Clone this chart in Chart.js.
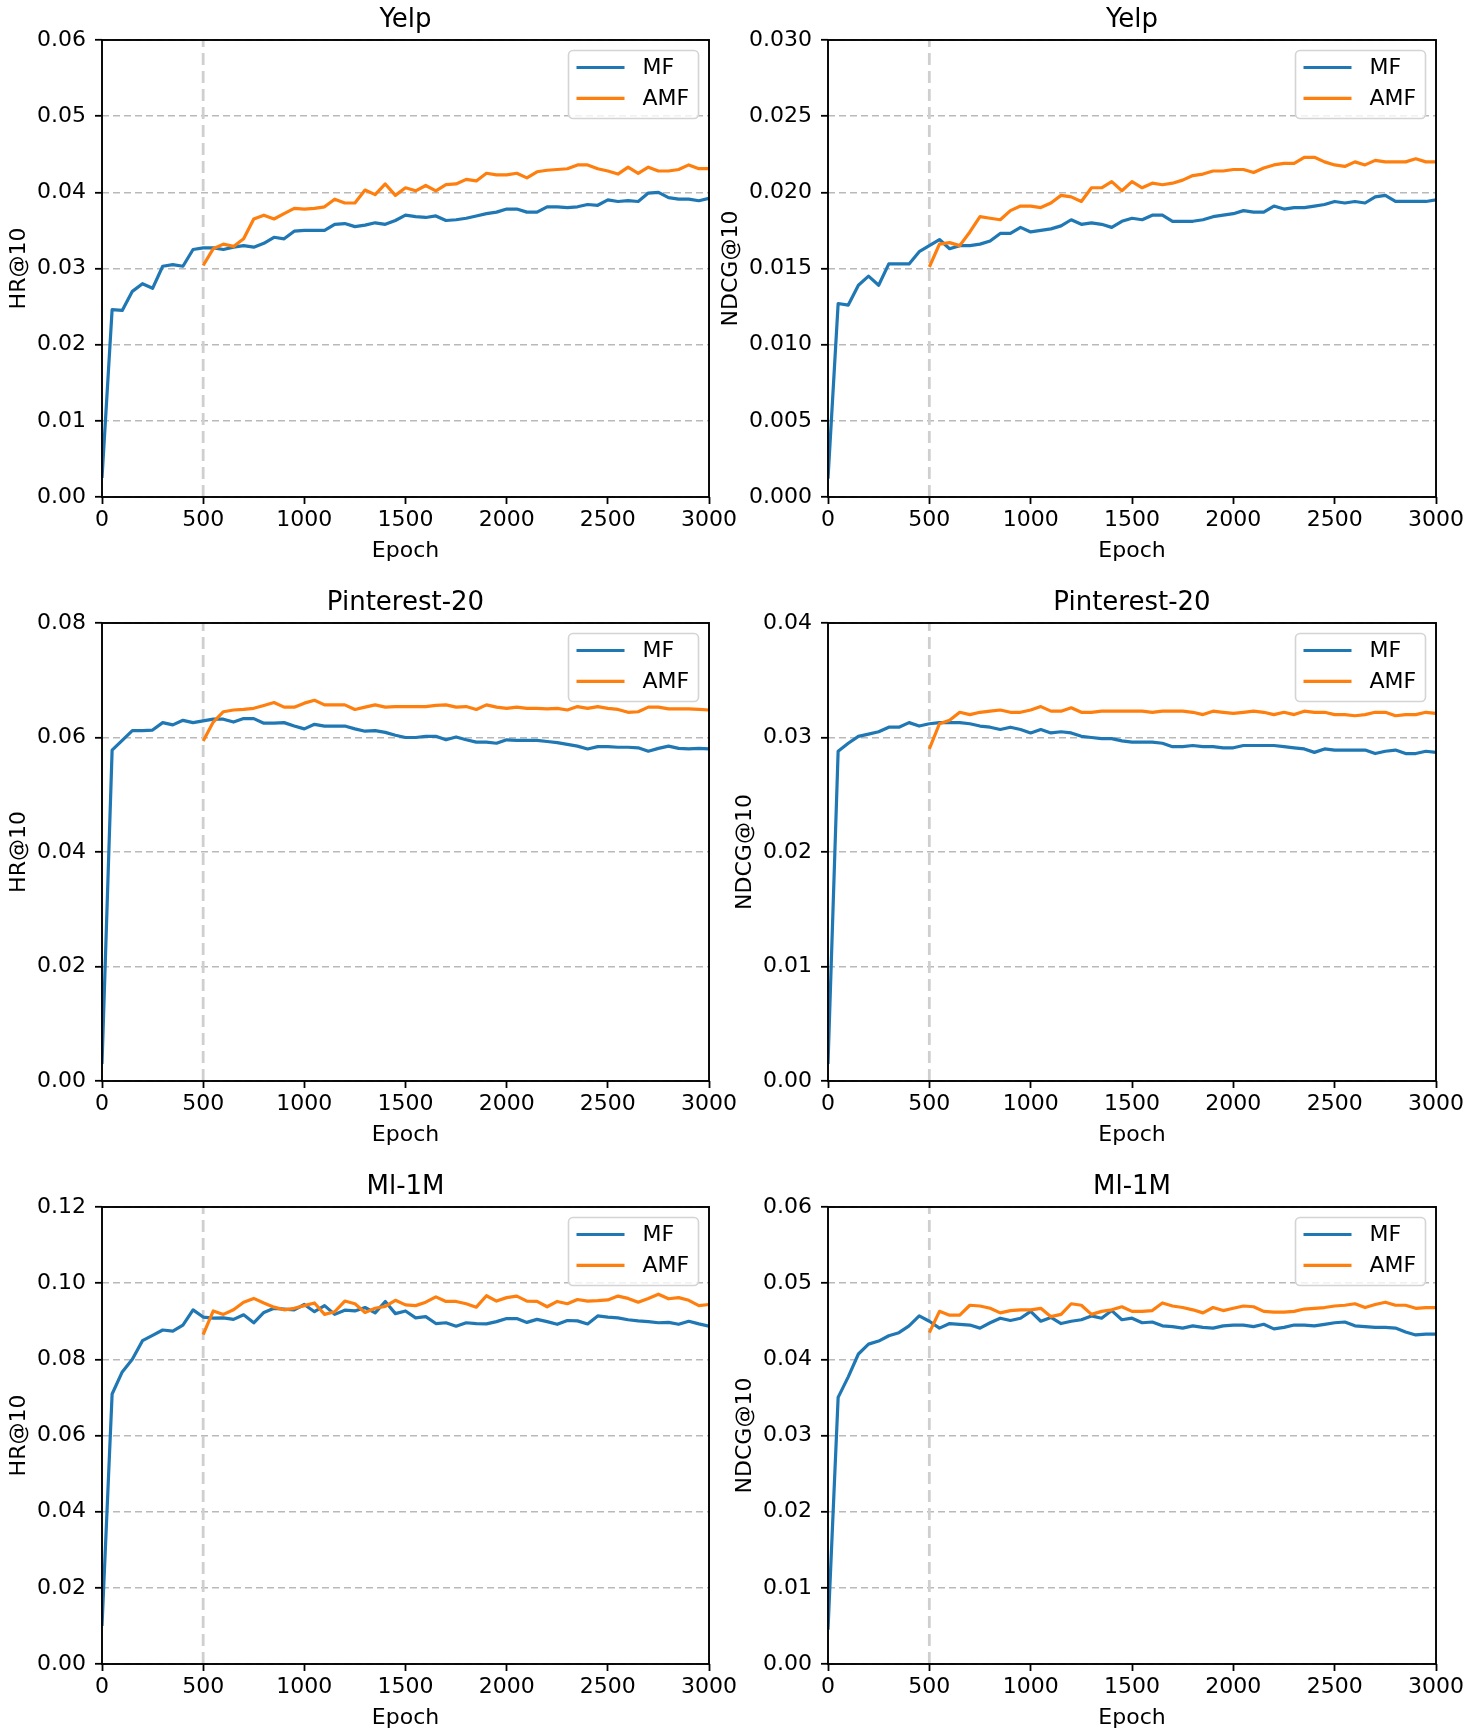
<!DOCTYPE html>
<html>
<head>
<meta charset="utf-8">
<title>MF vs AMF training curves</title>
<script src="https://cdn.jsdelivr.net/npm/chart.js@4.4.1/dist/chart.umd.min.js"></script>
<style>
    html, body { margin: 0; padding: 0; background: #fff; }
    #page { position: relative; width: 1467px; height: 1736px; overflow: hidden; background: #fff; }
    #page canvas { position: absolute; }
</style>
</head>
<body>
<div id="page"></div>
<script>
// x positions shared by every panel (evaluated every 50 epochs)
const epochs = [0, 50, 100, 150, 200, 250, 300, 350, 400, 450,
    500, 550, 600, 650, 700, 750, 800, 850, 900, 950,
    1000, 1050, 1100, 1150, 1200, 1250, 1300, 1350, 1400, 1450,
    1500, 1550, 1600, 1650, 1700, 1750, 1800, 1850, 1900, 1950,
    2000, 2050, 2100, 2150, 2200, 2250, 2300, 2350, 2400, 2450,
    2500, 2550, 2600, 2650, 2700, 2750, 2800, 2850, 2900, 2950, 3000];
const amfStart = 500;
const epochTicks = [0, 500, 1000, 1500, 2000, 2500, 3000];

// Yelp
const yelpHrMF = [0.0025, 0.0246, 0.0245, 0.0270, 0.0280, 0.0274, 0.0303, 0.0305, 0.0303, 0.0325,
    0.0327, 0.0327, 0.0325, 0.0328, 0.0330, 0.0328, 0.0333, 0.0341, 0.0339, 0.0349,
    0.0350, 0.0350, 0.0350, 0.0358, 0.0359, 0.0355, 0.0357, 0.0360, 0.0358, 0.0363,
    0.0370, 0.0368, 0.0367, 0.0369, 0.0363, 0.0364, 0.0366, 0.0369, 0.0372, 0.0374,
    0.0378, 0.0378, 0.0374, 0.0374, 0.0381, 0.0381, 0.0380, 0.0381, 0.0384, 0.0383,
    0.0390, 0.0388, 0.0389, 0.0388, 0.0399, 0.0400, 0.0393, 0.0391, 0.0391, 0.0389, 0.0392];
const yelpHrAMF = [0.0304, 0.0326, 0.0332, 0.0329, 0.0339, 0.0365, 0.0370, 0.0365, 0.0372, 0.0379,
    0.0378, 0.0379, 0.0381, 0.0391, 0.0386, 0.0386, 0.0403, 0.0397, 0.0411, 0.0396,
    0.0406, 0.0402, 0.0409, 0.0402, 0.0410, 0.0411, 0.0417, 0.0415, 0.0425, 0.0423,
    0.0423, 0.0425, 0.0419, 0.0427, 0.0429, 0.0430, 0.0431, 0.0436, 0.0436, 0.0431,
    0.0428, 0.0424, 0.0433, 0.0425, 0.0433, 0.0428, 0.0428, 0.0430, 0.0436, 0.0431, 0.0431];
const yelpNdcgMF = [0.0012, 0.0127, 0.0126, 0.0139, 0.0145, 0.0139, 0.0153, 0.0153, 0.0153, 0.0161,
    0.0165, 0.0169, 0.0163, 0.0165, 0.0165, 0.0166, 0.0168, 0.0173, 0.0173, 0.0177,
    0.0174, 0.0175, 0.0176, 0.0178, 0.0182, 0.0179, 0.0180, 0.0179, 0.0177, 0.0181,
    0.0183, 0.0182, 0.0185, 0.0185, 0.0181, 0.0181, 0.0181, 0.0182, 0.0184, 0.0185,
    0.0186, 0.0188, 0.0187, 0.0187, 0.0191, 0.0189, 0.0190, 0.0190, 0.0191, 0.0192,
    0.0194, 0.0193, 0.0194, 0.0193, 0.0197, 0.0198, 0.0194, 0.0194, 0.0194, 0.0194, 0.0195];
const yelpNdcgAMF = [0.0151, 0.0166, 0.0167, 0.0165, 0.0174, 0.0184, 0.0183, 0.0182, 0.0188, 0.0191,
    0.0191, 0.0190, 0.0193, 0.0198, 0.0197, 0.0194, 0.0203, 0.0203, 0.0207, 0.0201,
    0.0207, 0.0203, 0.0206, 0.0205, 0.0206, 0.0208, 0.0211, 0.0212, 0.0214, 0.0214,
    0.0215, 0.0215, 0.0213, 0.0216, 0.0218, 0.0219, 0.0219, 0.0223, 0.0223, 0.0220,
    0.0218, 0.0217, 0.0220, 0.0218, 0.0221, 0.0220, 0.0220, 0.0220, 0.0222, 0.0220, 0.0220];

// Pinterest-20
const pinHrMF = [0.0030, 0.0578, 0.0595, 0.0612, 0.0612, 0.0613, 0.0626, 0.0622, 0.0630, 0.0626,
    0.0629, 0.0632, 0.0632, 0.0627, 0.0633, 0.0633, 0.0625, 0.0625, 0.0626, 0.0620,
    0.0615, 0.0623, 0.0620, 0.0620, 0.0620, 0.0615, 0.0611, 0.0612, 0.0609, 0.0604,
    0.0600, 0.0600, 0.0602, 0.0602, 0.0596, 0.0601, 0.0596, 0.0592, 0.0592, 0.0590,
    0.0596, 0.0595, 0.0595, 0.0595, 0.0593, 0.0591, 0.0588, 0.0585, 0.0580, 0.0584,
    0.0584, 0.0583, 0.0583, 0.0582, 0.0576, 0.0581, 0.0585, 0.0581, 0.0580, 0.0581, 0.0580];
const pinHrAMF = [0.0594, 0.0627, 0.0645, 0.0648, 0.0649, 0.0651, 0.0656, 0.0661, 0.0653, 0.0653,
    0.0660, 0.0665, 0.0657, 0.0657, 0.0657, 0.0649, 0.0653, 0.0657, 0.0653, 0.0654,
    0.0654, 0.0654, 0.0654, 0.0656, 0.0657, 0.0653, 0.0654, 0.0649, 0.0657, 0.0653,
    0.0651, 0.0653, 0.0651, 0.0651, 0.0650, 0.0651, 0.0648, 0.0654, 0.0651, 0.0654,
    0.0651, 0.0649, 0.0644, 0.0645, 0.0653, 0.0653, 0.0650, 0.0650, 0.0650, 0.0649, 0.0648];
const pinNdcgMF = [0.0015, 0.0288, 0.0295, 0.0301, 0.0303, 0.0305, 0.0309, 0.0309, 0.0313, 0.0310,
    0.0312, 0.0313, 0.0313, 0.0313, 0.0312, 0.0310, 0.0309, 0.0307, 0.0309, 0.0307,
    0.0304, 0.0307, 0.0304, 0.0305, 0.0304, 0.0301, 0.0300, 0.0299, 0.0299, 0.0297,
    0.0296, 0.0296, 0.0296, 0.0295, 0.0292, 0.0292, 0.0293, 0.0292, 0.0292, 0.0291,
    0.0291, 0.0293, 0.0293, 0.0293, 0.0293, 0.0292, 0.0291, 0.0290, 0.0287, 0.0290,
    0.0289, 0.0289, 0.0289, 0.0289, 0.0286, 0.0288, 0.0289, 0.0286, 0.0286, 0.0288, 0.0287];
const pinNdcgAMF = [0.0290, 0.0312, 0.0315, 0.0322, 0.0320, 0.0322, 0.0323, 0.0324, 0.0322, 0.0322,
    0.0324, 0.0327, 0.0323, 0.0323, 0.0326, 0.0322, 0.0322, 0.0323, 0.0323, 0.0323,
    0.0323, 0.0323, 0.0322, 0.0323, 0.0323, 0.0323, 0.0322, 0.0320, 0.0323, 0.0322,
    0.0321, 0.0322, 0.0323, 0.0322, 0.0320, 0.0322, 0.0320, 0.0323, 0.0322, 0.0322,
    0.0320, 0.0320, 0.0319, 0.0320, 0.0322, 0.0322, 0.0319, 0.0320, 0.0320, 0.0322, 0.0321];

// Ml-1M
const mlHrMF = [0.0100, 0.0709, 0.0767, 0.0800, 0.0849, 0.0863, 0.0877, 0.0874, 0.0890, 0.0930,
    0.0911, 0.0908, 0.0909, 0.0905, 0.0917, 0.0896, 0.0923, 0.0934, 0.0932, 0.0930,
    0.0944, 0.0925, 0.0941, 0.0918, 0.0929, 0.0927, 0.0936, 0.0922, 0.0952, 0.0920,
    0.0927, 0.0909, 0.0912, 0.0894, 0.0896, 0.0887, 0.0896, 0.0894, 0.0893, 0.0899,
    0.0907, 0.0907, 0.0897, 0.0905, 0.0899, 0.0892, 0.0902, 0.0901, 0.0893, 0.0914,
    0.0911, 0.0909, 0.0904, 0.0901, 0.0899, 0.0896, 0.0897, 0.0892, 0.0900, 0.0893, 0.0887];
const mlHrAMF = [0.0865, 0.0927, 0.0918, 0.0930, 0.0950, 0.0960, 0.0948, 0.0937, 0.0930, 0.0934,
    0.0941, 0.0948, 0.0918, 0.0925, 0.0953, 0.0946, 0.0923, 0.0934, 0.0939, 0.0955,
    0.0943, 0.0941, 0.0950, 0.0964, 0.0952, 0.0952, 0.0946, 0.0937, 0.0967, 0.0953,
    0.0962, 0.0966, 0.0953, 0.0952, 0.0938, 0.0952, 0.0946, 0.0957, 0.0953, 0.0954,
    0.0956, 0.0966, 0.0960, 0.0950, 0.0960, 0.0971, 0.0959, 0.0962, 0.0955, 0.0941, 0.0944];
const mlNdcgMF = [0.0045, 0.0350, 0.0377, 0.0407, 0.0420, 0.0424, 0.0431, 0.0435, 0.0444, 0.0457,
    0.0450, 0.0441, 0.0447, 0.0446, 0.0445, 0.0441, 0.0448, 0.0454, 0.0451, 0.0454,
    0.0463, 0.0450, 0.0455, 0.0447, 0.0450, 0.0452, 0.0457, 0.0454, 0.0464, 0.0452,
    0.0454, 0.0448, 0.0449, 0.0444, 0.0443, 0.0441, 0.0444, 0.0442, 0.0441, 0.0444,
    0.0445, 0.0445, 0.0443, 0.0446, 0.0440, 0.0442, 0.0445, 0.0445, 0.0444, 0.0446,
    0.0448, 0.0449, 0.0444, 0.0443, 0.0442, 0.0442, 0.0441, 0.0436, 0.0432, 0.0433, 0.0433];
const mlNdcgAMF = [0.0435, 0.0463, 0.0458, 0.0458, 0.0471, 0.0470, 0.0467, 0.0461, 0.0464, 0.0465,
    0.0465, 0.0467, 0.0456, 0.0459, 0.0473, 0.0471, 0.0459, 0.0463, 0.0465, 0.0469,
    0.0463, 0.0463, 0.0464, 0.0474, 0.0470, 0.0468, 0.0465, 0.0461, 0.0468, 0.0464,
    0.0467, 0.0470, 0.0469, 0.0463, 0.0462, 0.0462, 0.0463, 0.0466, 0.0467, 0.0468,
    0.0470, 0.0471, 0.0473, 0.0468, 0.0472, 0.0475, 0.0471, 0.0471, 0.0467, 0.0468, 0.0468];

// y tick values per panel
const yelpHrTicks = [0, 0.01, 0.02, 0.03, 0.04, 0.05, 0.06];
const yelpNdcgTicks = [0, 0.005, 0.010, 0.015, 0.020, 0.025, 0.030];
const pinHrTicks = [0, 0.02, 0.04, 0.06, 0.08];
const pinNdcgTicks = [0, 0.01, 0.02, 0.03, 0.04];
const mlHrTicks = [0, 0.02, 0.04, 0.06, 0.08, 0.10, 0.12];
const mlNdcgTicks = [0, 0.01, 0.02, 0.03, 0.04, 0.05, 0.06];

const blue = '#1f77b4';
const orange = '#ff7f0e';
const fontFamily = "'DejaVu Sans', 'Liberation Sans', sans-serif";

Chart.defaults.font.family = fontFamily;
Chart.defaults.font.size = 22;
Chart.defaults.color = '#000';
Chart.defaults.animation = false;

const panels = [
    { title: 'Yelp', yLabel: 'HR@10', mf: yelpHrMF, amf: yelpHrAMF, ticks: yelpHrTicks, dec: 2, col: 0, row: 0 },
    { title: 'Yelp', yLabel: 'NDCG@10', mf: yelpNdcgMF, amf: yelpNdcgAMF, ticks: yelpNdcgTicks, dec: 3, col: 1, row: 0 },
    { title: 'Pinterest-20', yLabel: 'HR@10', mf: pinHrMF, amf: pinHrAMF, ticks: pinHrTicks, dec: 2, col: 0, row: 1 },
    { title: 'Pinterest-20', yLabel: 'NDCG@10', mf: pinNdcgMF, amf: pinNdcgAMF, ticks: pinNdcgTicks, dec: 2, col: 1, row: 1 },
    { title: 'Ml-1M', yLabel: 'HR@10', mf: mlHrMF, amf: mlHrAMF, ticks: mlHrTicks, dec: 2, col: 0, row: 2 },
    { title: 'Ml-1M', yLabel: 'NDCG@10', mf: mlNdcgMF, amf: mlNdcgAMF, ticks: mlNdcgTicks, dec: 2, col: 1, row: 2 }
];

// canvas placement and the plot box each chart should end up with
const cols = [
    { left: 0, width: 740, plotLeft: 102, plotRight: 706 },
    { left: 700, width: 767, plotLeft: 828, plotRight: 1433 }
];
const rows = [
    { top: 0, height: 583, plotTop: 40, plotBottom: 497 },
    { top: 583, height: 584, plotTop: 623, plotBottom: 1081 },
    { top: 1167, height: 569, plotTop: 1207, plotBottom: 1664 }
];

// dashed marker where AMF training starts
const startLine = {
    id: 'startLine',
    beforeDatasetsDraw(chart) {
        const { ctx, chartArea } = chart;
        const x = chart.scales.x.getPixelForValue(amfStart);
        ctx.save();
        ctx.strokeStyle = '#cfcfcf';
        ctx.lineWidth = 2.8;
        ctx.setLineDash([12, 6]);
        ctx.beginPath();
        ctx.moveTo(x, chartArea.bottom);
        ctx.lineTo(x, chartArea.top);
        ctx.stroke();
        ctx.restore();
    }
};

// matplotlib style box around the axes
const frame = {
    id: 'frame',
    afterDatasetsDraw(chart) {
        const { ctx, chartArea } = chart;
        ctx.save();
        ctx.strokeStyle = '#000';
        ctx.lineWidth = 1.9;
        ctx.strokeRect(chartArea.left, chartArea.top, chartArea.right - chartArea.left, chartArea.bottom - chartArea.top);
        ctx.restore();
    }
};

// legend box in the upper right corner of the plot
const cornerLegend = {
    id: 'cornerLegend',
    afterDraw(chart) {
        const { ctx, chartArea } = chart;
        const w = 130, h = 68;
        const left = chartArea.right - 10.5 - w;
        const top = chartArea.top + 10.5;
        ctx.save();
        ctx.beginPath();
        ctx.roundRect(left, top, w, h, 4.5);
        ctx.fillStyle = 'rgba(255,255,255,0.8)';
        ctx.fill();
        ctx.strokeStyle = '#d4d4d4';
        ctx.lineWidth = 1.6;
        ctx.stroke();
        chart.data.datasets.forEach((ds, i) => {
            const y = top + 17 + i * 30.8;
            ctx.strokeStyle = ds.borderColor;
            ctx.lineWidth = 3.2;
            ctx.beginPath();
            ctx.moveTo(left + 8, y);
            ctx.lineTo(left + 56, y);
            ctx.stroke();
            ctx.fillStyle = '#000';
            ctx.font = '22px ' + fontFamily;
            ctx.textBaseline = 'middle';
            ctx.textAlign = 'left';
            ctx.fillText(ds.label, left + 74, y + 1);
        });
        ctx.restore();
    }
};

function toPoints(xs, ys) {
    return ys.map((v, i) => ({ x: xs[i], y: v }));
}

const amfEpochs = epochs.filter(e => e >= amfStart);
const page = document.getElementById('page');

panels.forEach(p => {
    const c = cols[p.col];
    const r = rows[p.row];
    const canvas = document.createElement('canvas');
    canvas.width = c.width;
    canvas.height = r.height;
    canvas.style.left = c.left + 'px';
    canvas.style.top = r.top + 'px';
    canvas.style.width = c.width + 'px';
    canvas.style.height = r.height + 'px';
    page.appendChild(canvas);

    const target = {
        left: c.plotLeft - c.left,
        right: c.plotRight - c.left,
        top: r.plotTop - r.top,
        bottom: r.plotBottom - r.top
    };

    const chart = new Chart(canvas.getContext('2d'), {
        type: 'line',
        data: {
            datasets: [
                {
                    label: 'MF',
                    data: toPoints(epochs, p.mf),
                    borderColor: blue,
                    borderWidth: 3.2,
                    pointRadius: 0,
                    tension: 0,
                    fill: false,
                    borderJoinStyle: 'round',
                    order: 1
                },
                {
                    label: 'AMF',
                    data: toPoints(amfEpochs, p.amf),
                    borderColor: orange,
                    borderWidth: 3.2,
                    pointRadius: 0,
                    tension: 0,
                    fill: false,
                    borderJoinStyle: 'round',
                    order: 0
                }
            ]
        },
        options: {
            responsive: false,
            devicePixelRatio: 1,
            events: [],
            layout: { padding: { left: 4, top: 2, right: 7, bottom: 20 } },
            plugins: {
                legend: { display: false },
                tooltip: { enabled: false },
                title: {
                    display: true,
                    text: p.title,
                    fullSize: false,
                    color: '#000',
                    font: { size: 26, weight: 'normal', lineHeight: 1.2 },
                    padding: { top: 0, bottom: 4 }
                }
            },
            scales: {
                x: {
                    type: 'linear',
                    min: 0,
                    max: 3000,
                    afterBuildTicks: scale => { scale.ticks = epochTicks.map(v => ({ value: v })); },
                    ticks: {
                        autoSkip: false,
                        maxRotation: 0,
                        padding: 3,
                        color: '#000',
                        font: { size: 22, lineHeight: 1.2 },
                        callback: v => String(v)
                    },
                    grid: {
                        drawOnChartArea: false,
                        drawTicks: true,
                        tickLength: 7,
                        tickColor: '#000',
                        tickWidth: 1.8
                    },
                    border: { display: false },
                    title: {
                        display: true,
                        text: 'Epoch',
                        color: '#000',
                        font: { size: 22, lineHeight: 1.2 },
                        padding: { top: 2, bottom: 0 }
                    }
                },
                y: {
                    type: 'linear',
                    min: p.ticks[0],
                    max: p.ticks[p.ticks.length - 1],
                    afterBuildTicks: scale => { scale.ticks = p.ticks.map(v => ({ value: v })); },
                    ticks: {
                        autoSkip: false,
                        padding: 9,
                        color: '#000',
                        font: { size: 22, lineHeight: 1.2 },
                        callback: v => Number(v).toFixed(p.dec)
                    },
                    grid: {
                        drawOnChartArea: true,
                        color: '#b9b9b9',
                        lineWidth: 1.6,
                        drawTicks: true,
                        tickLength: 7,
                        tickColor: '#000',
                        tickWidth: 1.8
                    },
                    border: { display: false, dash: [7, 4] },
                    title: {
                        display: true,
                        text: p.yLabel,
                        color: '#000',
                        font: { size: 22, lineHeight: 1.2 },
                        padding: { top: 0, bottom: -4 }
                    }
                }
            }
        },
        plugins: [startLine, frame, cornerLegend]
    });

    // nudge the outer padding until the plot box sits where the figure has it
    for (let k = 0; k < 3; k++) {
        const ca = chart.chartArea;
        const pad = chart.config.options.layout.padding;
        chart.config.options.layout.padding = {
            left: pad.left + (target.left - ca.left),
            top: pad.top + (target.top - ca.top),
            right: pad.right + (ca.right - target.right),
            bottom: pad.bottom + (ca.bottom - target.bottom)
        };
        chart.update('none');
    }
});
</script>
</body>
</html>
